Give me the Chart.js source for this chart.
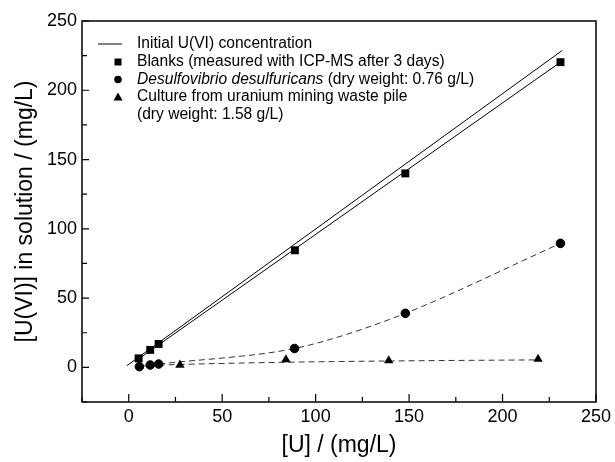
<!DOCTYPE html>
<html>
<head>
<meta charset="utf-8">
<script src="https://cdn.jsdelivr.net/npm/chart.js@4.4.1/dist/chart.umd.min.js"></script>
<style>
  html, body { margin: 0; padding: 0; background: #fff; }
</style>
</head>
<body>
<canvas id="chartUranium" width="615" height="462"></canvas>
<script>
// values
var blankX = [5.3, 11.5, 16.0, 88.9, 148, 231.0];
var blankY = [6.5, 12.6, 16.9, 84.5, 140, 220.3];
var desulfoX = [5.7, 11.5, 16.0, 88.7, 148, 231.0];
var desulfoY = [0.5, 1.7, 2.4, 13.6, 39, 89.5];
var cultureX = [27.4, 84.1, 139.1, 219.0];
var cultureY = [1.7, 5.6, 4.9, 6.0];

// drawn lines (initial concentration, blank fit, culture fit)
var initialX = [-1, 232];
var initialY = [1.2, 228.8];
var blankFitX = [5, 231];
var blankFitY = [5.8, 220.3];
var cultureFitX = [16, 27.4, 84, 139, 219];
var cultureFitY = [1.6, 2.1, 3.7, 4.6, 5.4];

var legendLabels = [
    'Initial U(VI) concentration',
    'Blanks (measured with ICP-MS after 3 days)',
    ['Desulfovibrio desulfuricans', ' (dry weight: 0.76 g/L)'],
    'Culture from uranium mining waste pile',
    '(dry weight: 1.58 g/L)'
];

var fontFam = '"Liberation Sans", Arial, sans-serif';
Chart.defaults.font.family = fontFam;
Chart.defaults.color = '#000';

function pts(xs, ys) {
    return xs.map(function (x, i) { return {x: x, y: ys[i]}; });
}

// box round the plot and inward tick marks
var framePlugin = {
    id: 'frame',
    afterDatasetsDraw: function (chart) {
        var ctx = chart.ctx, a = chart.chartArea;
        var xs = chart.scales.x, ys = chart.scales.y;
        ctx.save();
        ctx.strokeStyle = '#000';
        ctx.lineWidth = 1.5;
        ctx.strokeRect(a.left, a.top, a.right - a.left, a.bottom - a.top);
        ctx.lineWidth = 1.2;
        ctx.beginPath();
        xs.ticks.forEach(function (t) {
            var px = xs.getPixelForValue(t.value);
            var len = (t.value % 50 === 0) ? 8 : 5;
            ctx.moveTo(px, a.bottom);
            ctx.lineTo(px, a.bottom - len);
        });
        ys.ticks.forEach(function (t) {
            var py = ys.getPixelForValue(t.value);
            var len = (t.value % 50 === 0) ? 7 : 5;
            ctx.moveTo(a.left, py);
            ctx.lineTo(a.left + len, py);
        });
        ctx.stroke();
        ctx.restore();
    }
};

// legend with italic species name
var legendPlugin = {
    id: 'legendBox',
    afterDraw: function (chart) {
        var ctx = chart.ctx;
        var rows = [44, 62, 79.5, 97, 115];
        var tx = 137, mx = 118;
        var fnt = '15.6px ' + fontFam;
        ctx.save();
        ctx.fillStyle = '#000';
        ctx.strokeStyle = '#000';
        ctx.textBaseline = 'middle';
        ctx.textAlign = 'left';

        ctx.lineWidth = 1;
        ctx.beginPath();
        ctx.moveTo(98, rows[0]);
        ctx.lineTo(122, rows[0]);
        ctx.stroke();

        ctx.fillRect(mx - 3.5, rows[1] - 3.5, 7, 7);

        ctx.beginPath();
        ctx.arc(mx, rows[2], 3.8, 0, Math.PI * 2);
        ctx.fill();

        ctx.beginPath();
        ctx.moveTo(mx, rows[3] - 4.5);
        ctx.lineTo(mx + 4.5, rows[3] + 3.5);
        ctx.lineTo(mx - 4.5, rows[3] + 3.5);
        ctx.closePath();
        ctx.fill();

        ctx.font = fnt;
        ctx.fillText(legendLabels[0], tx, rows[0]);
        ctx.fillText(legendLabels[1], tx, rows[1]);
        ctx.font = 'italic ' + fnt;
        ctx.fillText(legendLabels[2][0], tx, rows[2]);
        var w = ctx.measureText(legendLabels[2][0]).width;
        ctx.font = fnt;
        ctx.fillText(legendLabels[2][1], tx + w, rows[2]);
        ctx.fillText(legendLabels[3], tx, rows[3]);
        ctx.fillText(legendLabels[4], tx, rows[4]);
        ctx.restore();
    }
};

var ctxUranium = document.getElementById('chartUranium').getContext('2d');
var chartUranium = new Chart(ctxUranium, {
    type: 'scatter',
    data: {
        datasets: [{
            label: 'Blanks',
            data: pts(blankX, blankY),
            pointStyle: 'rect',
            pointRadius: 5.6,
            backgroundColor: '#000',
            borderColor: '#000',
            borderWidth: 0,
            order: 0
        }, {
            label: 'Desulfovibrio desulfuricans',
            data: pts(desulfoX, desulfoY),
            pointStyle: 'circle',
            pointRadius: 4.3,
            backgroundColor: '#000',
            borderColor: '#333',
            borderWidth: 1,
            pointBorderColor: '#000',
            showLine: true,
            borderDash: [6, 4],
            tension: 0.3,
            order: 1
        }, {
            label: 'Culture',
            data: pts(cultureX, cultureY),
            pointStyle: 'triangle',
            pointRadius: 5.4,
            backgroundColor: '#000',
            borderColor: '#000',
            borderWidth: 0,
            order: 0
        }, {
            label: 'Culture fit',
            data: pts(cultureFitX, cultureFitY),
            showLine: true,
            pointRadius: 0,
            borderColor: '#333',
            borderWidth: 1,
            borderDash: [6, 4],
            cubicInterpolationMode: 'monotone',
            order: 2
        }, {
            label: 'Initial U(VI) concentration',
            data: pts(initialX, initialY),
            showLine: true,
            pointRadius: 0,
            borderColor: '#000',
            borderWidth: 1,
            order: 2
        }, {
            label: 'Blank fit',
            data: pts(blankFitX, blankFitY),
            showLine: true,
            pointRadius: 0,
            borderColor: '#000',
            borderWidth: 1,
            order: 2
        }]
    },
    options: {
        responsive: false,
        animation: false,
        layout: { padding: { left: 0, right: 16, top: 21, bottom: 0 } },
        plugins: {
            legend: { display: false },
            tooltip: { enabled: false }
        },
        scales: {
            x: {
                type: 'linear',
                min: -25,
                max: 250,
                afterFit: function (s) { s.height = 60; },
                grid: { display: false, drawTicks: false },
                border: { display: false },
                ticks: {
                    stepSize: 25,
                    autoSkip: false,
                    maxRotation: 0,
                    padding: 4,
                    font: { size: 18 },
                    callback: function (v) { return (v >= 0 && v % 50 === 0) ? v : ''; }
                },
                title: {
                    display: true,
                    text: '[U] / (mg/L)',
                    font: { size: 23 },
                    padding: { top: 0, bottom: 3 }
                }
            },
            y: {
                type: 'linear',
                min: -25,
                max: 250,
                afterFit: function (s) { s.width = 82; },
                grid: { display: false, drawTicks: false },
                border: { display: false },
                ticks: {
                    stepSize: 25,
                    autoSkip: false,
                    padding: 5,
                    font: { size: 18 },
                    callback: function (v) { return (v >= 0 && v % 50 === 0) ? v : ''; }
                },
                title: {
                    display: true,
                    text: '[U(VI)] in solution / (mg/L)',
                    font: { size: 23 },
                    padding: { top: 12, bottom: 0 }
                }
            }
        }
    },
    plugins: [framePlugin, legendPlugin]
});
</script>
</body>
</html>
